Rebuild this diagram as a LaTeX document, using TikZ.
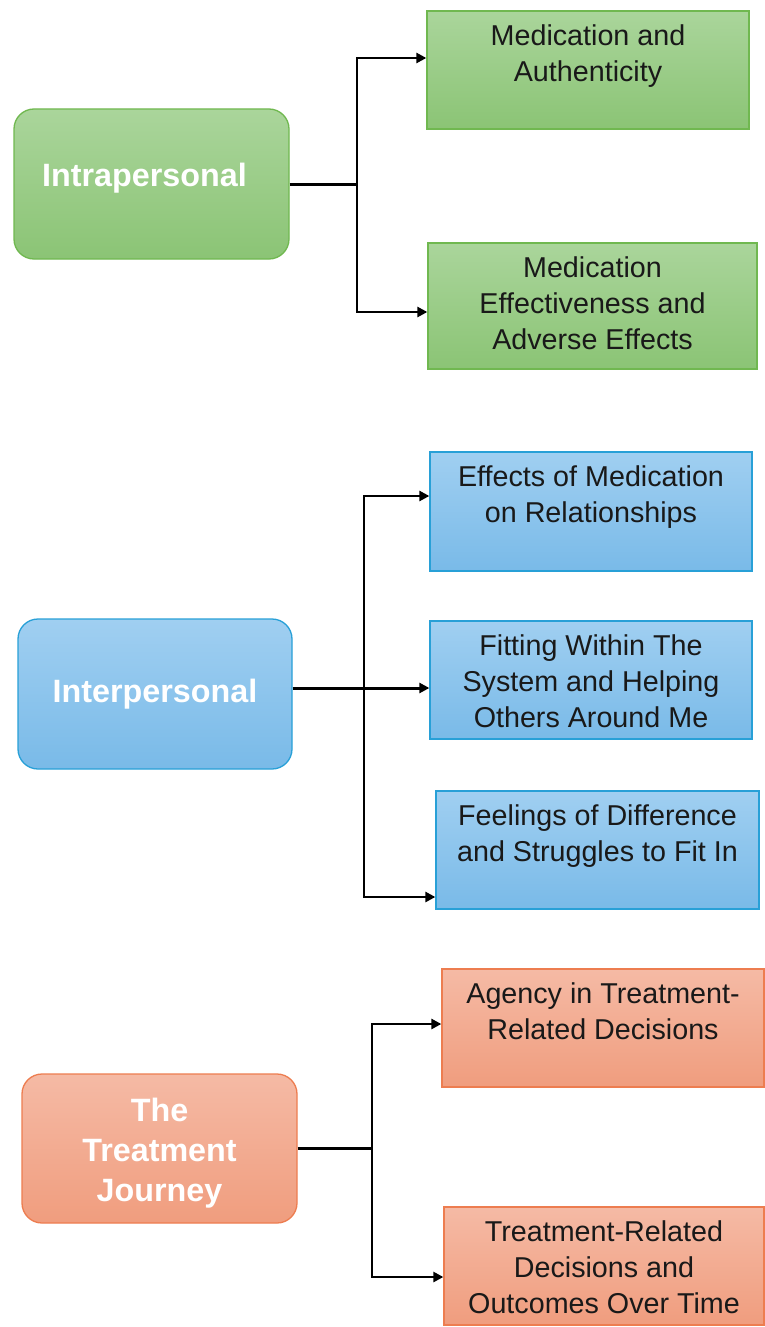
\documentclass[tikz,border=0pt]{standalone}
\usepackage{fontspec}
\setmainfont{Liberation Sans}
\usetikzlibrary{arrows.meta}
\definecolor{gTop}{RGB}{170,213,155}
\definecolor{gBot}{RGB}{139,196,117}
\definecolor{gLine}{RGB}{112,184,80}
\definecolor{bTop}{RGB}{160,207,241}
\definecolor{bBot}{RGB}{121,186,232}
\definecolor{bLine}{RGB}{40,160,215}
\definecolor{oTop}{RGB}{245,186,165}
\definecolor{oBot}{RGB}{240,157,126}
\definecolor{oLine}{RGB}{237,125,80}
\definecolor{txt}{RGB}{25,25,25}
\newcommand{\childtext}[2]{\parbox[c][#1pt][t]{300pt}{\centering\fontsize{28.7}{36}\selectfont\vspace*{9.3pt}\strut #2\par}}
\tikzset{
  parentbox/.style={draw, line width=1.3pt, rounded corners=20pt, inner sep=0pt,
    align=center, text=white, font=\bfseries\fontsize{32.3}{40}\selectfont},
  childbox/.style={draw, line width=1.3pt, inner sep=0pt, text=txt},
  greenfill/.style={top color=gTop, bottom color=gBot, draw=gLine},
  bluefill/.style={top color=bTop, bottom color=bBot, draw=bLine},
  orangefill/.style={top color=oTop, bottom color=oBot, draw=oLine},
  trunk/.style={draw=black, line width=3pt},
  branch/.style={draw=black, line width=2.5pt, -{Triangle[length=10pt,width=10pt]}},
}
\begin{document}
\begin{tikzpicture}[x=1pt,y=1pt]
\useasboundingbox (0,0) rectangle (764,-1327);
% ---------- green ----------
\node[parentbox, greenfill, minimum width=275pt, minimum height=150pt] (p1) at (151.5,-184) {\hspace*{-14pt}\raisebox{6pt}[\height][\depth]{Intrapersonal}};
\node[childbox, greenfill, minimum width=322pt, minimum height=118pt] (g1) at (588,-70) {\childtext{118}{Medication and\\Authenticity}};
\node[childbox, greenfill, minimum width=329pt, minimum height=126pt] (g2) at (592.5,-306) {\childtext{126}{Medication\\Effectiveness and\\Adverse Effects}};
\coordinate (j1) at (357,-184);
\draw[trunk] (p1.east) -- (j1);
\draw[branch] (j1) |- ([yshift=12pt]g1.west);
\draw[branch] (j1) |- ([yshift=-6pt]g2.west);
% ---------- blue ----------
\node[parentbox, bluefill, minimum width=274pt, minimum height=150pt] (p2) at (155,-694) {Interpersonal};
\node[childbox, bluefill, minimum width=322pt, minimum height=119pt] (b1) at (591,-511.5) {\childtext{119}{Effects of Medication\\on Relationships}};
\node[childbox, bluefill, minimum width=322pt, minimum height=118pt] (b2) at (591,-680) {\childtext{118}{Fitting Within The\\System and Helping\\Others Around Me}};
\node[childbox, bluefill, minimum width=323pt, minimum height=118pt] (b3) at (597.5,-850) {\childtext{118}{Feelings of Difference\\and Struggles to Fit In}};
\coordinate (j2) at (364,-688);
\draw[trunk, -{Triangle[length=10pt,width=10pt]}] ([yshift=6pt]p2.east) -- ([yshift=-8pt]b2.west);
\draw[branch] (j2) |- ([yshift=15.5pt]b1.west);
\draw[branch] (j2) |- ([yshift=-47pt]b3.west);
% ---------- orange ----------
\node[parentbox, orangefill, minimum width=275pt, minimum height=149pt] (p3) at (159.5,-1148.5) {\raisebox{-5pt}[\height][\depth]{\parbox{270pt}{\centering The\\Treatment\\Journey}}};
\node[childbox, orangefill, minimum width=322pt, minimum height=118pt] (o1) at (603,-1028) {\childtext{118}{Agency in Treatment-\\Related Decisions}};
\node[childbox, orangefill, minimum width=320pt, minimum height=118pt] (o2) at (604,-1266) {\childtext{118}{Treatment-Related\\Decisions and\\Outcomes Over Time}};
\coordinate (j3) at (372,-1148.5);
\draw[trunk] (p3.east) -- (j3);
\draw[branch] (j3) |- ([yshift=4pt]o1.west);
\draw[branch] (j3) |- ([yshift=-11pt]o2.west);
\end{tikzpicture}
\end{document}
